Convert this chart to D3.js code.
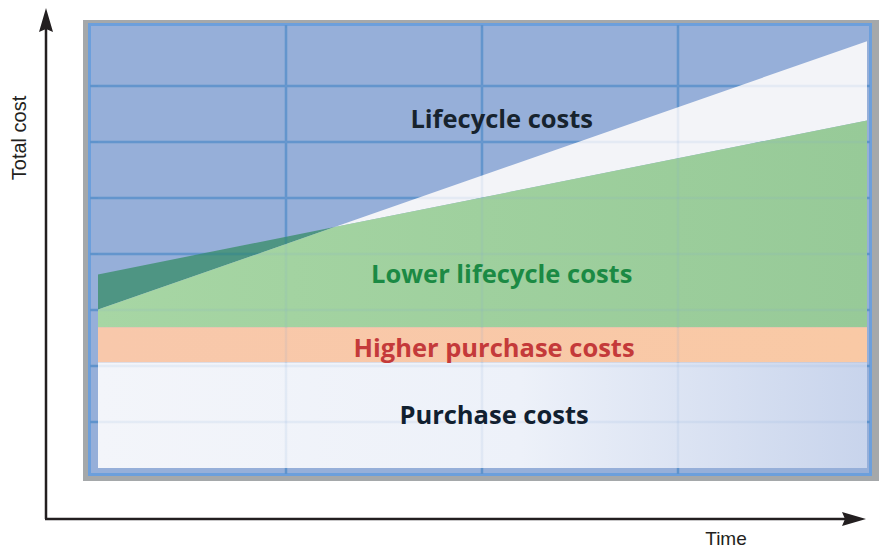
<!DOCTYPE html>
<html>
<head>
<meta charset="utf-8">
<script src="https://cdn.jsdelivr.net/npm/d3@7"></script>
<style>
  body { margin: 0; background: #ffffff; }
  svg { display: block; }
</style>
</head>
<body>
<div id="chart"></div>
<script>
// time axis (years) and cost series
var time = [0, 10];
var purchaseCost = 24;          // base purchase cost
var higherPurchaseCost = 32;    // purchase cost of the better product
var lifecycleCost = [36, 97];   // cheaper product, total cost over time
var lowerLifecycleCost = [44, 79]; // dearer product, total cost over time
var labels = ["Lifecycle costs", "Lower lifecycle costs", "Higher purchase costs", "Purchase costs"];
var axisLabels = ["Total cost", "Time"];

var W = 885, H = 549;
var svg = d3.select("#chart").append("svg")
    .attr("width", W)
    .attr("height", H);

var defs = svg.append("defs");

var x = d3.scaleLinear().domain([0, 10]).range([98, 867]);
var y = d3.scaleLinear().domain([0, 100]).range([468, 28]);

// background grid scales (the blue "graph paper")
var gx = d3.scaleLinear().domain([0, 4]).range([90, 874]);
var gy = d3.scaleLinear().domain([0, 8]).range([30, 478]);

// gradients
var gPurchase = defs.append("linearGradient").attr("id", "gPurchase");
gPurchase.append("stop").attr("offset", "0%").attr("stop-color", "#f3f5fa");
gPurchase.append("stop").attr("offset", "55%").attr("stop-color", "#edf1f9");
gPurchase.append("stop").attr("offset", "100%").attr("stop-color", "#c8d4ec");

var gGreen = defs.append("linearGradient").attr("id", "gGreen");
gGreen.append("stop").attr("offset", "0%").attr("stop-color", "#a7d6a4");
gGreen.append("stop").attr("offset", "100%").attr("stop-color", "#97ca98");

var gPeach = defs.append("linearGradient").attr("id", "gPeach");
gPeach.append("stop").attr("offset", "0%").attr("stop-color", "#f8c8ab");
gPeach.append("stop").attr("offset", "100%").attr("stop-color", "#f9c9a5");

// frame
svg.append("rect")
    .attr("x", 83).attr("y", 20)
    .attr("width", 796).attr("height", 461)
    .attr("fill", "#a5a8aa");
svg.append("rect")
    .attr("x", 88).attr("y", 23)
    .attr("width", 784).attr("height", 453)
    .attr("fill", "#96afd9");
svg.append("rect")
    .attr("x", 89.5).attr("y", 24.5)
    .attr("width", 781).attr("height", 450)
    .attr("fill", "none")
    .attr("stroke", "#6c9fdc")
    .attr("stroke-width", 3);

function drawGrid(g, color, opacity) {
    g.selectAll("line.v")
        .data(d3.range(1, 4))
        .enter().append("line")
        .attr("class", "v")
        .attr("x1", function(d) { return gx(d); })
        .attr("x2", function(d) { return gx(d); })
        .attr("y1", 25).attr("y2", 474)
        .attr("stroke", color)
        .attr("stroke-width", 2.5)
        .attr("opacity", opacity);
    g.selectAll("line.h")
        .data(d3.range(1, 8))
        .enter().append("line")
        .attr("class", "h")
        .attr("x1", 90).attr("x2", 870)
        .attr("y1", function(d) { return gy(d); })
        .attr("y2", function(d) { return gy(d); })
        .attr("stroke", color)
        .attr("stroke-width", 2.5)
        .attr("opacity", opacity);
}
drawGrid(svg.append("g"), "#5f93cc", 1);

// where the two total cost lines cross
var slopeA = (lifecycleCost[1] - lifecycleCost[0]) / (time[1] - time[0]);
var slopeB = (lowerLifecycleCost[1] - lowerLifecycleCost[0]) / (time[1] - time[0]);
var tCross = time[0] + (lowerLifecycleCost[0] - lifecycleCost[0]) / (slopeA - slopeB);
var pts = [time[0], tCross, time[1]].map(function(t) {
    return {
        t: t,
        a: lifecycleCost[0] + slopeA * (t - time[0]),
        b: lowerLifecycleCost[0] + slopeB * (t - time[0])
    };
});

// dark wedge: dearer product above cheaper product (left of crossing)
svg.append("path")
    .datum(pts)
    .attr("d", d3.area()
        .x(function(d) { return x(d.t); })
        .y0(function(d) { return y(Math.min(d.a, d.b)); })
        .y1(function(d) { return y(d.b); }))
    .attr("fill", "#1e834a")
    .attr("fill-opacity", 0.6);

// white wedge: extra lifecycle cost of the cheaper product
svg.append("path")
    .datum(pts)
    .attr("d", d3.area()
        .x(function(d) { return x(d.t); })
        .y0(function(d) { return y(Math.min(d.a, d.b)); })
        .y1(function(d) { return y(d.a); }))
    .attr("fill", "#f3f4f8");

// green: lower lifecycle costs
svg.append("path")
    .datum(pts)
    .attr("d", d3.area()
        .x(function(d) { return x(d.t); })
        .y0(y(higherPurchaseCost))
        .y1(function(d) { return y(Math.min(d.a, d.b)); }))
    .attr("fill", "url(#gGreen)");

// peach: higher purchase costs
svg.append("rect")
    .attr("x", x(time[0]))
    .attr("y", y(higherPurchaseCost))
    .attr("width", x(time[1]) - x(time[0]))
    .attr("height", y(purchaseCost) - y(higherPurchaseCost))
    .attr("fill", "url(#gPeach)");

// purchase costs
svg.append("rect")
    .attr("x", x(time[0]))
    .attr("y", y(purchaseCost))
    .attr("width", x(time[1]) - x(time[0]))
    .attr("height", y(0) - y(purchaseCost))
    .attr("fill", "url(#gPurchase)");

// faint grid showing through the areas
defs.append("clipPath").attr("id", "clipAreas")
    .append("rect")
    .attr("x", x(time[0])).attr("y", y(100))
    .attr("width", x(time[1]) - x(time[0]))
    .attr("height", y(0) - y(100));
drawGrid(svg.append("g").attr("clip-path", "url(#clipAreas)"), "#7fa6d8", 0.12);

// area labels
var labelFont = "'Open Sans', 'Noto Sans', sans-serif";
var labelPos = [
    { t: 5.25, v: 77.3, color: "#17232e" },
    { t: 5.25, v: 42.0, color: "#1b8a44" },
    { t: 5.15, v: 25.2, color: "#c43a3a" },
    { t: 5.15, v: 10.0, color: "#112030" }
];
svg.append("g").selectAll("text")
    .data(labels)
    .enter().append("text")
    .attr("x", function(d, i) { return x(labelPos[i].t); })
    .attr("y", function(d, i) { return y(labelPos[i].v); })
    .attr("text-anchor", "middle")
    .attr("font-family", labelFont)
    .attr("font-weight", 700)
    .attr("font-size", "25.5px")
    .attr("fill", function(d, i) { return labelPos[i].color; })
    .text(function(d) { return d; });

// axes with arrows
var axisColor = "#231f20";
svg.append("line")
    .attr("x1", 46).attr("y1", 519)
    .attr("x2", 46).attr("y2", 28)
    .attr("stroke", axisColor).attr("stroke-width", 2.5);
svg.append("path")
    .attr("d", "M46,8 L53,32 L46,29 L39,32 Z")
    .attr("fill", axisColor);
svg.append("line")
    .attr("x1", 45).attr("y1", 519)
    .attr("x2", 846).attr("y2", 519)
    .attr("stroke", axisColor).attr("stroke-width", 2.5);
svg.append("path")
    .attr("d", "M866,519 L842,526 L845,519 L842,512 Z")
    .attr("fill", axisColor);

svg.append("text")
    .attr("transform", "translate(26,138) rotate(-90)")
    .attr("text-anchor", "middle")
    .attr("font-family", "'Liberation Sans', Arial, sans-serif")
    .attr("font-size", "20px")
    .attr("fill", axisColor)
    .text(axisLabels[0]);
svg.append("text")
    .attr("x", 726).attr("y", 545)
    .attr("text-anchor", "middle")
    .attr("font-family", "'Liberation Sans Narrow', 'Liberation Sans', Arial, sans-serif")
    .attr("font-size", "19px")
    .attr("fill", axisColor)
    .text(axisLabels[1]);
</script>
</body>
</html>
